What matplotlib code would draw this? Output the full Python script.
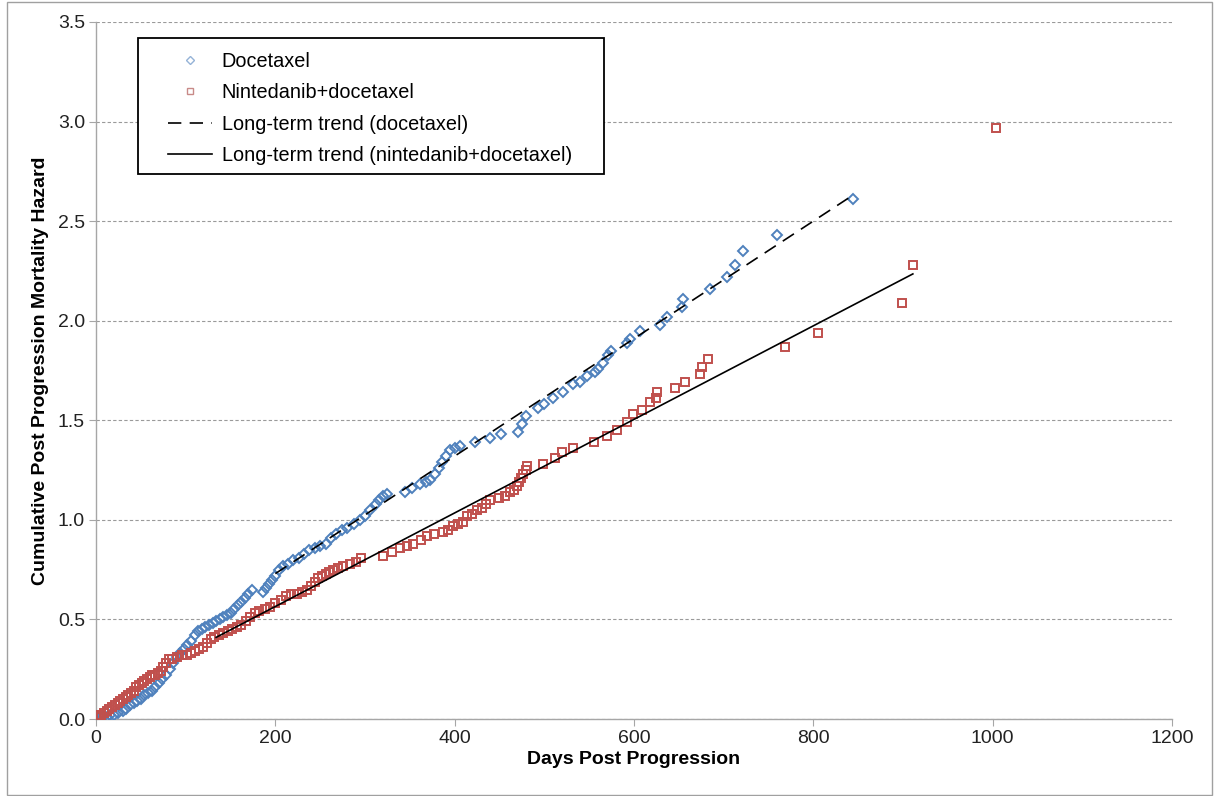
import matplotlib
matplotlib.use("Agg")
import matplotlib.pyplot as plt
from matplotlib.lines import Line2D
from matplotlib.patches import Rectangle

plt.rcParams['font.family'] = ['Liberation Sans', 'DejaVu Sans']

# Docetaxel: days post progression / cumulative hazard
doc_days = [2, 5, 8, 12, 16, 20, 25, 30, 34, 38, 42, 46, 50, 54, 58, 62, 66, 70, 74, 78,
            82, 86, 90, 94, 98, 102, 106, 110, 114, 118, 122, 126, 130, 134, 138, 142, 146,
            150, 154, 158, 162, 166, 170, 174,
            186, 190, 193, 196, 200, 204, 208, 214, 220, 226, 232, 238, 244, 250, 256, 262,
            268, 274, 280, 288, 294, 300, 306, 312, 316, 320, 324, 345, 352, 361, 368, 373,
            378, 382, 386, 390, 395, 400, 406, 423, 439, 452, 471, 475, 480, 493, 500, 510,
            521, 532, 540, 548, 556, 560, 565, 571, 574, 592, 596, 607, 629, 637, 654, 655,
            685, 704, 713, 722, 759, 844]
doc_haz = [0.00, 0.01, 0.01, 0.01, 0.02, 0.02, 0.03, 0.04, 0.05, 0.07, 0.08, 0.09, 0.10, 0.12,
           0.13, 0.14, 0.16, 0.18, 0.20, 0.22, 0.25, 0.28, 0.31, 0.33, 0.35, 0.37, 0.39, 0.42,
           0.44, 0.45, 0.46, 0.47, 0.48, 0.49, 0.50, 0.51, 0.52, 0.53, 0.55, 0.57, 0.59, 0.61,
           0.63, 0.65,
           0.64, 0.66, 0.68, 0.70, 0.72, 0.75, 0.77, 0.78, 0.80, 0.81, 0.83, 0.85, 0.86, 0.87,
           0.88, 0.91, 0.93, 0.95, 0.96, 0.98, 1.00, 1.02, 1.05, 1.08, 1.10, 1.12, 1.13, 1.14,
           1.16, 1.18, 1.19, 1.20, 1.23, 1.26, 1.29, 1.32, 1.35, 1.36, 1.37, 1.39, 1.41, 1.43,
           1.44, 1.48, 1.52, 1.56, 1.58, 1.61, 1.64, 1.68, 1.69, 1.72, 1.74, 1.76, 1.79, 1.83,
           1.85, 1.89, 1.91, 1.95, 1.98, 2.02, 2.07, 2.11, 2.16, 2.22, 2.28, 2.35, 2.43, 2.61]

# Nintedanib+docetaxel
nin_days = [1, 3, 6, 9, 12, 15, 18, 21, 24, 27, 30, 33, 36, 39, 42, 45, 48, 51, 54, 57, 60,
            63, 66, 69, 72, 75, 78, 81, 85, 90, 96, 102, 106, 110, 115, 119, 124, 128, 132,
            137, 142, 147, 152, 157, 162, 167, 172, 177, 182, 188, 194, 200, 206, 212, 218,
            224, 230, 235, 240, 244, 248, 252, 256, 260, 264, 270, 276, 283, 290, 296, 320,
            330, 339, 347, 354, 362, 369, 377, 387, 393, 398, 404, 409, 414, 419, 425, 430,
            435, 439, 449, 456, 462, 466, 469, 472, 474, 476, 479, 481, 499, 512, 520, 532,
            555, 570, 581, 592, 599, 609, 618, 624, 626, 646, 657, 674, 676, 683, 768, 805,
            899, 911, 1004]
nin_haz = [0.01, 0.02, 0.02, 0.03, 0.04, 0.05, 0.06, 0.07, 0.08, 0.09, 0.10, 0.11, 0.12, 0.13,
           0.14, 0.16, 0.17, 0.18, 0.19, 0.20, 0.21, 0.22, 0.22, 0.23, 0.24, 0.26, 0.28, 0.30,
           0.30, 0.31, 0.32, 0.32, 0.33, 0.34, 0.35, 0.36, 0.38, 0.40, 0.41, 0.42, 0.43, 0.44,
           0.45, 0.46, 0.47, 0.49, 0.51, 0.53, 0.54, 0.55, 0.56, 0.58, 0.60, 0.62, 0.63, 0.63,
           0.64, 0.65, 0.67, 0.69, 0.71, 0.72, 0.73, 0.74, 0.75, 0.76, 0.77, 0.78, 0.79, 0.81,
           0.82, 0.84, 0.86, 0.87, 0.88, 0.90, 0.92, 0.93, 0.94, 0.95, 0.97, 0.98, 0.99, 1.02,
           1.03, 1.05, 1.06, 1.08, 1.10, 1.11, 1.12, 1.14, 1.15, 1.17, 1.19, 1.21, 1.23, 1.25,
           1.27, 1.28, 1.31, 1.34, 1.36, 1.39, 1.42, 1.45, 1.49, 1.53, 1.55, 1.59, 1.61, 1.64,
           1.66, 1.69, 1.73, 1.77, 1.81, 1.87, 1.94, 2.09, 2.28, 2.97]

# Long-term trend lines (endpoints)
doc_trend_days = [200, 844]
doc_trend_haz = [0.73, 2.63]
nin_trend_days = [134, 911]
nin_trend_haz = [0.41, 2.235]

legend_labels = ["Docetaxel", "Nintedanib+docetaxel",
                 "Long-term trend (docetaxel)", "Long-term trend (nintedanib+docetaxel)"]

blue = '#4F81BD'
red = '#C0504D'

W, H = 1217, 796
fig = plt.figure(figsize=(W / 100, H / 100), dpi=100)
ax = fig.add_axes([96/W, 77/H, 1076/W, 697/H])

ax.plot(doc_days, doc_haz, linestyle='none', marker='D', markersize=5.4,
        markerfacecolor='none', markeredgecolor=blue, markeredgewidth=1.4, zorder=3)
ax.plot(nin_days, nin_haz, linestyle='none', marker='s', markersize=6.4,
        markerfacecolor='none', markeredgecolor=red, markeredgewidth=1.4, zorder=3)
ax.plot(doc_trend_days, doc_trend_haz, color='black', lw=1.2, dashes=(8, 5), zorder=4)
ax.plot(nin_trend_days, nin_trend_haz, color='black', lw=1.2, zorder=4)

ax.set_xlim(0, 1200)
ax.set_ylim(0, 3.5)
ax.set_xticks([0, 200, 400, 600, 800, 1000, 1200])
ax.set_yticks([0.0, 0.5, 1.0, 1.5, 2.0, 2.5, 3.0, 3.5])
ax.set_yticklabels([f"{v:.1f}" for v in [0.0, 0.5, 1.0, 1.5, 2.0, 2.5, 3.0, 3.5]])
ax.yaxis.grid(True, linestyle=(0, (3, 2)), color='#9A9A9A', lw=0.8)
ax.set_axisbelow(True)
for s in ['top', 'right']:
    ax.spines[s].set_visible(False)
for s in ['left', 'bottom']:
    ax.spines[s].set_color('#A6A6A6')
    ax.spines[s].set_linewidth(1.0)
ax.tick_params(axis='both', direction='out', length=5, color='#A6A6A6',
               labelsize=14, labelcolor='#222222', pad=3)

ax.set_xlabel("Days Post Progression", fontsize=14, fontweight='bold', labelpad=3)
ax.set_ylabel("Cumulative Post Progression Mortality Hazard", fontsize=14,
              fontweight='bold', labelpad=6)

handles = [
    Line2D([], [], linestyle='none', marker='D', markersize=4.5, markerfacecolor='none',
           markeredgecolor='#95B3D7', markeredgewidth=1.0),
    Line2D([], [], linestyle='none', marker='s', markersize=4.5, markerfacecolor='none',
           markeredgecolor='#C88A88', markeredgewidth=1.0),
    Line2D([], [], color='black', lw=1.2, dashes=(8, 5)),
    Line2D([], [], color='black', lw=1.2),
]

# legend frame (Excel-style, wider padding than matplotlib's)
frame = Rectangle((138/W, 1 - 174/H), (604 - 138)/W, (174 - 38)/H,
                  transform=fig.transFigure, fill=True, facecolor='white',
                  edgecolor='black', lw=1.3, zorder=5, clip_on=False)
ax.add_patch(frame)

leg = ax.legend(handles, legend_labels, loc='upper left',
                bbox_to_anchor=((159 - 96) / 1076, (719 - 43) / 697),
                fontsize=14.3, frameon=False,
                borderpad=0.45, labelspacing=0.62, handlelength=2.2, handletextpad=0.5,
                borderaxespad=0)
leg.set_zorder(6)

fig.patches.append(Rectangle((7/W, 1/H), 1205/W, 793/H, transform=fig.transFigure,
                             fill=False, edgecolor='#A0A0A0', lw=1.0))

fig.savefig("out.png", dpi=100)
